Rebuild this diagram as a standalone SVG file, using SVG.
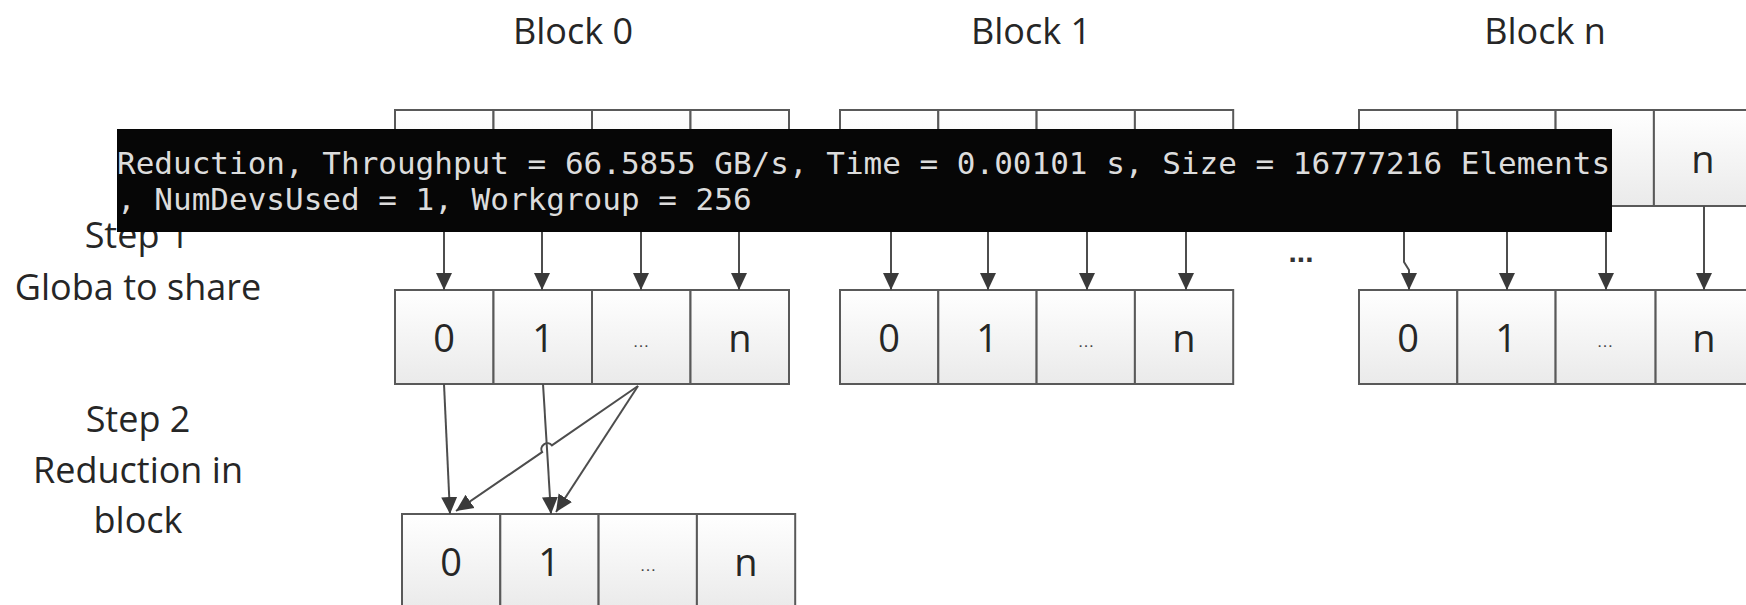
<svg xmlns="http://www.w3.org/2000/svg" width="1746" height="605" viewBox="0 0 1746 605">
<style>
.cell{fill:url(#cg);stroke:#595959;stroke-width:2}
.lbl{font-family:"Open Sans","Liberation Sans",sans-serif;font-size:36px;fill:#262626;text-anchor:middle}
.num{font-family:"Open Sans","Liberation Sans",sans-serif;font-size:38px;fill:#262626;text-anchor:middle}
.ell{font-family:"Liberation Sans",sans-serif;font-size:17px;fill:#444;text-anchor:middle}
.con{fill:none;stroke:#4d4d4d;stroke-width:2;marker-end:url(#ah)}
.term{font-family:"DejaVu Sans Mono",monospace;font-size:31px;fill:#dcdcdc}
</style>
<defs>
<linearGradient id="cg" x1="0" y1="0" x2="0" y2="1">
<stop offset="0" stop-color="#ffffff"/>
<stop offset="1" stop-color="#eaeaea"/>
</linearGradient>
<marker id="ah" markerUnits="userSpaceOnUse" markerWidth="17" markerHeight="18" viewBox="0 0 17 18" refX="17" refY="9" orient="auto">
<path d="M0,1 L17,9 L0,17 Z" fill="#3a3a3a"/>
</marker>
</defs>
<rect width="1746" height="605" fill="#ffffff"/>

<g id="label-block0"><text class="lbl" x="573" y="44">Block 0</text></g>
<g id="label-block1"><text class="lbl" x="1031" y="44">Block 1</text></g>
<g id="label-blockn"><text class="lbl" x="1545" y="44">Block n</text></g>
<g id="label-step1"><text class="lbl" x="137" y="248">Step 1</text><text class="lbl" x="138" y="300">Globa to share</text></g>
<g id="label-step2"><text class="lbl" x="138" y="432">Step 2</text><text class="lbl" x="138" y="483">Reduction in</text><text class="lbl" x="138" y="533">block</text></g>
<g id="label-dots"><text x="1301" y="262" font-family="Liberation Sans, sans-serif" font-size="30" font-weight="bold" fill="#333" text-anchor="middle">...</text></g>

<g id="global-block0">
<rect class="cell" x="395" y="110" width="98.5" height="96"/><rect class="cell" x="493.5" y="110" width="98.5" height="96"/><rect class="cell" x="592" y="110" width="98.5" height="96"/><rect class="cell" x="690.5" y="110" width="98.5" height="96"/>
</g>
<g id="global-block1">
<rect class="cell" x="840" y="110" width="98.3" height="96"/><rect class="cell" x="938.3" y="110" width="98.3" height="96"/><rect class="cell" x="1036.6" y="110" width="98.3" height="96"/><rect class="cell" x="1134.9" y="110" width="98.3" height="96"/>
</g>
<g id="global-blockn">
<rect class="cell" x="1359" y="110" width="98.3" height="96"/><rect class="cell" x="1457.3" y="110" width="98.3" height="96"/><rect class="cell" x="1555.6" y="110" width="98.3" height="96"/><rect class="cell" x="1653.9" y="110" width="98.3" height="96"/>
<text class="num" x="1703" y="173">n</text>
</g>

<g id="shared-block0">
<rect class="cell" x="395" y="290" width="98.5" height="94"/><rect class="cell" x="493.5" y="290" width="98.5" height="94"/><rect class="cell" x="592" y="290" width="98.5" height="94"/><rect class="cell" x="690.5" y="290" width="98.5" height="94"/>
<text class="num" x="444" y="352">0</text><text class="num" x="543" y="352">1</text><text class="ell" x="641" y="347">…</text><text class="num" x="740" y="352">n</text>
</g>
<g id="shared-block1">
<rect class="cell" x="840" y="290" width="98.3" height="94"/><rect class="cell" x="938.3" y="290" width="98.3" height="94"/><rect class="cell" x="1036.6" y="290" width="98.3" height="94"/><rect class="cell" x="1134.9" y="290" width="98.3" height="94"/>
<text class="num" x="889" y="352">0</text><text class="num" x="987" y="352">1</text><text class="ell" x="1086" y="347">…</text><text class="num" x="1184" y="352">n</text>
</g>
<g id="shared-blockn">
<rect class="cell" x="1359" y="290" width="98.3" height="94"/><rect class="cell" x="1457.3" y="290" width="98.3" height="94"/><rect class="cell" x="1555.6" y="290" width="100" height="94"/><rect class="cell" x="1655.6" y="290" width="98.3" height="94"/>
<text class="num" x="1408" y="352">0</text><text class="num" x="1506" y="352">1</text><text class="ell" x="1605" y="347">…</text><text class="num" x="1704" y="352">n</text>
</g>
<g id="reduced-block0">
<rect class="cell" x="402" y="514" width="98.3" height="96"/><rect class="cell" x="500.3" y="514" width="98.3" height="96"/><rect class="cell" x="598.6" y="514" width="98.3" height="96"/><rect class="cell" x="696.9" y="514" width="98.3" height="96"/>
<text class="num" x="451" y="576">0</text><text class="num" x="549" y="576">1</text><text class="ell" x="648" y="571">…</text><text class="num" x="746" y="576">n</text>
</g>

<g id="connectors">
<path class="con" d="M444,206 V290"/><path class="con" d="M542,206 V290"/><path class="con" d="M641,206 V290"/><path class="con" d="M739,206 V290"/>
<path class="con" d="M891,206 V290"/><path class="con" d="M988,206 V290"/><path class="con" d="M1087,206 V290"/><path class="con" d="M1186,206 V290"/>
<path class="con" d="M1404,206 V262 L1409,270 V290"/><path class="con" d="M1507,206 V290"/><path class="con" d="M1606,206 V290"/><path class="con" d="M1704,206 V290"/>
<path class="con" d="M444,384 L450,514"/>
<path class="con" d="M543,384 L551,514"/>
<path class="con" d="M638,386 L551.9,445.3 A6,6 0 0 0 542.1,452.1 L456,511"/>
<path class="con" d="M638,386 L556,512"/>
</g>

<g id="console-overlay">
<rect x="117" y="129" width="1495" height="103" fill="#060606"/>
<text class="term" x="117" y="174">Reduction, Throughput = 66.5855 GB/s, Time = 0.00101 s, Size = 16777216 Elements</text>
<text class="term" x="117" y="210">, NumDevsUsed = 1, Workgroup = 256</text>
</g>
</svg>
